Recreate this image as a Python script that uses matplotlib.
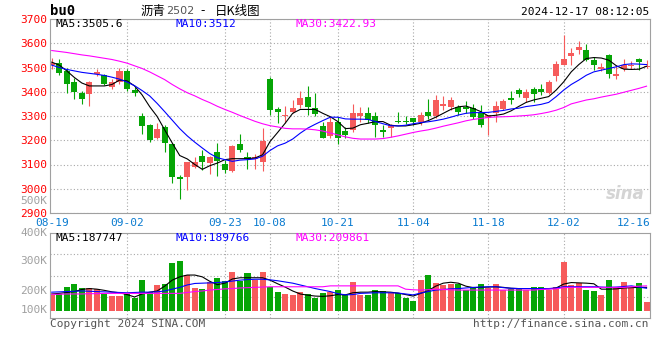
import numpy as np
import pandas as pd
import matplotlib
matplotlib.use("Agg")
import matplotlib.pyplot as plt

# trading days 2024-08-19 .. 2024-12-17 (holidays removed)
holidays = pd.to_datetime(["2024-09-16", "2024-09-17", "2024-10-01", "2024-10-02",
                           "2024-10-03", "2024-10-04", "2024-10-07"])
dates = pd.bdate_range("2024-08-19", "2024-12-17")
dates = dates[~dates.isin(holidays)]
tick_labels = ["08-19", "09-02", "09-23", "10-08", "10-21", "11-04", "11-18", "12-02", "12-16"]

opens = [3510, 3520, 3486, 3439, 3396, 3392, 3473, 3469, 3418, 3440,
         3485, 3407, 3301, 3264, 3209, 3253, 3186, 3049, 3048, 3090,
         3133, 3105, 3152, 3102, 3072, 3185, 3131, 3123, 3110, 3452,
         3328, 3300, 3318, 3345, 3380, 3332, 3259, 3218, 3275, 3240,
         3243, 3298, 3314, 3300, 3243, 3250, 3278, 3279, 3290, 3277,
         3318, 3300, 3343, 3336, 3336, 3336, 3332, 3311, 3290, 3314,
         3330, 3376, 3406, 3376, 3411, 3411, 3393, 3466, 3512, 3548,
         3571, 3571, 3530, 3493, 3553, 3466, 3493, 3507, 3534, 3501]
closes = [3519, 3478, 3434, 3400, 3372, 3439, 3481, 3433, 3439, 3485,
          3411, 3396, 3257, 3202, 3247, 3189, 3048, 3041, 3109, 3112,
          3109, 3132, 3113, 3076, 3177, 3161, 3123, 3130, 3195, 3325,
          3315, 3304, 3333, 3375, 3339, 3308, 3211, 3275, 3210, 3222,
          3314, 3314, 3284, 3262, 3232, 3264, 3274, 3276, 3276, 3304,
          3300, 3366, 3350, 3366, 3318, 3330, 3295, 3261, 3304, 3341,
          3362, 3367, 3392, 3400, 3392, 3400, 3441, 3513, 3537, 3559,
          3583, 3530, 3509, 3500, 3475, 3475, 3512, 3512, 3523, 3507]
highs = [3541, 3533, 3496, 3455, 3404, 3444, 3492, 3475, 3451, 3500,
         3492, 3418, 3314, 3268, 3273, 3264, 3189, 3055, 3109, 3131,
         3161, 3134, 3190, 3120, 3180, 3226, 3151, 3145, 3250, 3462,
         3339, 3341, 3366, 3403, 3424, 3393, 3277, 3295, 3295, 3256,
         3351, 3336, 3339, 3318, 3264, 3266, 3318, 3300, 3292, 3318,
         3369, 3388, 3382, 3377, 3347, 3360, 3350, 3347, 3306, 3360,
         3370, 3403, 3417, 3410, 3420, 3434, 3448, 3526, 3632, 3580,
         3608, 3598, 3543, 3520, 3557, 3509, 3534, 3526, 3539, 3529]
lows = [3492, 3470, 3396, 3372, 3350, 3343, 3464, 3428, 3410, 3434,
        3404, 3383, 3227, 3194, 3205, 3153, 3022, 2956, 2995, 3085,
        3079, 3059, 3052, 3065, 3068, 3150, 3082, 3082, 3072, 3305,
        3273, 3273, 3311, 3331, 3304, 3298, 3209, 3210, 3184, 3209,
        3234, 3277, 3273, 3213, 3213, 3213, 3270, 3268, 3264, 3262,
        3286, 3291, 3325, 3325, 3304, 3311, 3289, 3256, 3222, 3277,
        3325, 3351, 3380, 3359, 3357, 3387, 3389, 3444, 3509, 3509,
        3556, 3526, 3491, 3485, 3458, 3452, 3485, 3493, 3489, 3496]

ma5 = [3522, 3510, 3486, 3459, 3436, 3424, 3424, 3424, 3430, 3448,
       3445, 3424, 3387, 3339, 3298, 3243, 3189, 3137, 3123, 3100,
       3080, 3095, 3106, 3120, 3124, 3124, 3124, 3127, 3140, 3195,
       3232, 3270, 3311, 3327, 3327, 3327, 3311, 3297, 3277, 3248,
       3250, 3264, 3270, 3277, 3277, 3262, 3259, 3259, 3264, 3270,
       3281, 3295, 3311, 3327, 3338, 3341, 3331, 3318, 3300, 3303,
       3308, 3321, 3339, 3356, 3366, 3373, 3380, 3407, 3441, 3482,
       3512, 3537, 3541, 3539, 3530, 3507, 3493, 3492, 3493, 3505]
ma10 = [3510, 3500, 3492, 3486, 3480, 3476, 3472, 3467, 3460, 3452,
        3440, 3425, 3405, 3383, 3352, 3318, 3283, 3248, 3218, 3192,
        3168, 3145, 3128, 3120, 3113, 3118, 3120, 3123, 3134, 3158,
        3177, 3188, 3205, 3229, 3250, 3266, 3281, 3295, 3295, 3288,
        3287, 3287, 3286, 3277, 3268, 3260, 3259, 3262, 3268, 3273,
        3276, 3281, 3287, 3295, 3304, 3311, 3314, 3314, 3315, 3319,
        3323, 3329, 3332, 3339, 3343, 3348, 3356, 3380, 3407, 3430,
        3448, 3468, 3482, 3489, 3496, 3503, 3512, 3515, 3514, 3512]
ma30 = [3570, 3566, 3562, 3557, 3552, 3548, 3543, 3538, 3533, 3526,
        3518, 3507, 3496, 3482, 3466, 3450, 3430, 3412, 3396, 3383,
        3368, 3355, 3340, 3327, 3315, 3302, 3290, 3278, 3268, 3260,
        3255, 3249, 3247, 3247, 3246, 3243, 3238, 3230, 3222, 3214,
        3208, 3205, 3205, 3205, 3207, 3212, 3218, 3225, 3232, 3238,
        3243, 3250, 3258, 3265, 3272, 3280, 3286, 3290, 3294, 3296,
        3297, 3298, 3300, 3302, 3305, 3310, 3316, 3324, 3335, 3350,
        3358, 3366, 3371, 3378, 3384, 3390, 3398, 3406, 3414, 3423]

# volume, thousand lots
volume = [187, 189, 214, 224, 211, 211, 207, 189, 184, 184,
          189, 178, 237, 196, 220, 223, 294, 300, 253, 211,
          207, 231, 244, 233, 264, 233, 259, 237, 264, 214,
          198, 190, 187, 196, 190, 178, 194, 196, 203, 187,
          230, 187, 187, 203, 200, 192, 194, 178, 168, 237,
          253, 228, 220, 223, 223, 203, 212, 223, 211, 223,
          203, 207, 206, 203, 212, 212, 203, 212, 298, 220,
          226, 203, 201, 187, 237, 212, 230, 209, 227, 163]
vol_ma5 = [190, 192, 195, 198, 205, 208, 206, 202, 197, 194,
           188, 180, 190, 196, 200, 216, 236, 247, 253, 253,
           247, 232, 221, 226, 240, 244, 244, 244, 244, 236,
           224, 213, 200, 190, 186, 183, 182, 184, 188, 187,
           194, 196, 196, 198, 197, 196, 193, 188, 183, 192,
           201, 216, 226, 229, 226, 216, 211, 212, 213, 214,
           212, 209, 208, 208, 208, 207, 207, 210, 223, 228,
           227, 226, 224, 206, 206, 207, 210, 211, 212, 212]
vol_ma10 = [196, 197, 198, 199, 200, 199, 198, 197, 196, 195,
            194, 195, 196, 196, 197, 200, 206, 212, 220, 225,
            226, 227, 228, 230, 233, 236, 238, 239, 239, 237,
            234, 230, 226, 220, 214, 208, 203, 198, 191, 187,
            188, 192, 193, 194, 194, 194, 193, 190, 187, 193,
            198, 203, 205, 207, 208, 210, 212, 213, 214, 214,
            211, 209, 208, 208, 208, 208, 208, 210, 214, 214,
            214, 214, 214, 213, 212, 213, 215, 217, 213, 209]
vol_ma30 = [189, 189, 190, 190, 190, 191, 191, 192, 192, 192,
            192, 192, 192, 192, 192, 192, 192, 192, 195, 198,
            200, 203, 205, 207, 208, 210, 211, 212, 213, 214,
            214, 214, 214, 214, 214, 214, 214, 217, 217, 217,
            217, 217, 217, 217, 217, 217, 217, 206, 204, 203,
            204, 206, 205, 204, 203, 203, 203, 203, 203, 203,
            203, 203, 203, 203, 203, 205, 206, 207, 211, 212,
            212, 212, 212, 212, 212, 212, 212, 214, 216, 217]
vol_base = 133

RED = "#f65b5b"
GREEN = "#06a506"
GRID = "#a8a8a8"
FRAME = "#a0a0a0"
mono = "DejaVu Sans Mono"


def main():
    plt.rcParams["font.family"] = [mono, "Noto Sans CJK SC"]
    fig = plt.figure(figsize=(6.6, 3.6), dpi=100)
    W, H = 660, 360

    o = np.array(opens); c = np.array(closes)
    x = np.arange(len(o))
    cols = np.where(c >= o, RED, GREEN)
    pos = [list(dates.strftime("%m-%d")).index(t) for t in tick_labels]

    ax = fig.add_axes([50 / W, 1 - 213 / H, 600 / W, 194 / H])
    ax.vlines(x, lows, highs, colors=cols, lw=0.8, zorder=2)
    ax.bar(x, np.maximum(np.abs(c - o), 2), bottom=np.minimum(o, c), width=0.8,
           color=cols, linewidth=0, zorder=2)
    ax.plot(x, ma5, color="black", lw=0.8, zorder=3)
    ax.plot(x, ma10, color="#0000ff", lw=0.8, zorder=3)
    ax.plot(x, ma30, color="#ff00ff", lw=0.8, zorder=3)
    ax.set_xlim(-0.23, 79.46)
    ax.set_ylim(2900, 3700)
    ax.set_yticks(range(2900, 3701, 100))
    ax.set_xticks(pos[1:-1])
    ax.set_xticklabels([])
    ax.tick_params(length=0, labelsize=8, labelcolor="#ff0000", pad=2)
    ax.grid(True, color=GRID, ls=(0, (1, 2)), lw=0.8, zorder=0)
    for s in ax.spines.values():
        s.set_color(FRAME)
    for p, t in zip(pos, tick_labels):
        if t == tick_labels[-1]:
            ax.text(1.0, -0.05, t, transform=ax.transAxes, ha="right", va="center",
                    color="#0a7bd0", fontsize=8)
        else:
            ax.text(p, -0.05, t, transform=ax.get_xaxis_transform(), ha="center",
                    va="center", color="#0a7bd0", fontsize=8)

    axv = fig.add_axes([50 / W, 1 - 318 / H, 600 / W, 85 / H])
    vol = np.array(volume)
    axv.bar(x, vol - vol_base, bottom=vol_base, width=0.8, color=cols, linewidth=0, zorder=2)
    axv.plot(x, vol_ma5, color="black", lw=0.8, zorder=3)
    axv.plot(x, vol_ma10, color="#0000ff", lw=0.8, zorder=3)
    axv.plot(x, vol_ma30, color="#ff00ff", lw=0.8, zorder=3)
    axv.set_xlim(-0.23, 79.46)
    axv.set_ylim(110, 393)
    axv.set_yticks(np.linspace(110, 393, 5)[1:-1])
    axv.set_yticklabels([])
    axv.set_xticks(pos[1:-1])
    axv.set_xticklabels([])
    axv.tick_params(length=0)
    axv.grid(True, color=GRID, ls=(0, (1, 2)), lw=0.8, zorder=0)
    for s in axv.spines.values():
        s.set_color(FRAME)
    ytr = axv.get_yaxis_transform()
    for v, t in [(137, "100K"), (200, "200K"), (300, "300K"), (394, "400K"), (501, "500K")]:
        axv.text(-0.004, v, t, transform=ytr, ha="right", va="center", color="#a0a0a0",
                 fontsize=8, clip_on=False)

    def ftext(px, py, s, **kw):
        fig.text(px / W, 1 - py / H, s, va="center", **kw)

    ftext(50, 11, "bu0", fontsize=10, fontweight="bold")
    ftext(141, 11, "沥青", fontsize=9, family=["Noto Sans CJK SC"])
    ftext(166, 11, "2502", fontsize=8, color="#555555", family=["DejaVu Sans"])
    ftext(200, 11, "-", fontsize=9, family=["Noto Sans CJK SC"])
    ftext(215, 11, "日K线图", fontsize=9, family=["Noto Sans CJK SC"])
    ftext(649, 12, "2024-12-17 08:12:05", fontsize=8, ha="right")

    ftext(55, 24, "MA5:3505.6", fontsize=8, color="black")
    ftext(175, 24, "MA10:3512", fontsize=8, color="#0000ff")
    ftext(295, 24, "MA30:3422.93", fontsize=8, color="#ff00ff")
    ftext(55, 238, "MA5:187747", fontsize=8, color="black")
    ftext(175, 238, "MA10:189766", fontsize=8, color="#0000ff")
    ftext(295, 238, "MA30:209861", fontsize=8, color="#ff00ff")

    ftext(645, 194, "sina", fontsize=12, ha="right", color="#d4d4d4",
          fontweight="bold", style="italic", family=["DejaVu Sans"])
    ftext(50, 324, "Copyright 2024 SINA.COM", fontsize=8, color="#555555")
    ftext(649, 324, "http://finance.sina.com.cn", fontsize=8, ha="right", color="#555555")

    fig.savefig("out.png", dpi=100)


if __name__ == "__main__":
    main()
